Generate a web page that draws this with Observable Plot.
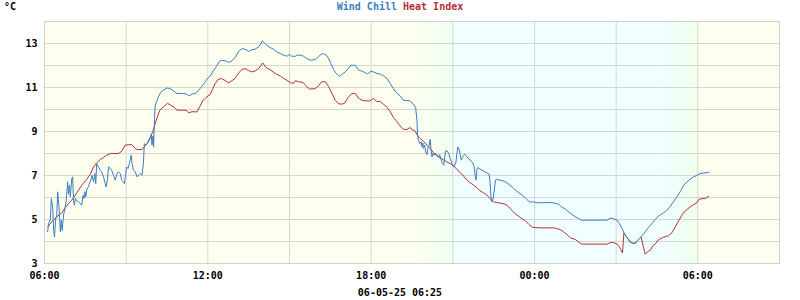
<!DOCTYPE html>
<html><head><meta charset="utf-8">
<script src="https://cdn.jsdelivr.net/npm/d3@7"></script>
<script src="https://cdn.jsdelivr.net/npm/@observablehq/plot@0.6"></script>
<style>
body{margin:0;background:#fff;}
svg{display:block;}
</style></head><body><div id="chart"></div>
<script>
// ---- data (minutes after 06:00 of the first day, °C) ----
const startUTC = [2025, 5, 4, 6, 0];
const endUTC = [2025, 5, 5, 9, 0];
const seriesNames = ["Wind Chill", "Heat Index"];
const seriesColors = ["#3b7dc0", "#b3303a"];
const stampText = "06-05-25 06:25";
const unitText = "°C";
const yTicks = [3, 5, 7, 9, 11, 13];
const yGrid = [3,4,5,6,7,8,9,10,11,12,13,14];

const wcMinutes = [7,9,13,15,18,20,22,25,27,29,32,35,37,39,42,45,48,51,53,55,57,60,62,64,66,68,71,75,79,82,85,87,89,91,93,97,100,102,105,108,111,113,115,119,123,126,130,134,136,139,141,145,148,152,156,160,163,167,170,174,176,179,181,184,187,189,191,193,196,200,204,207,211,215,218,220,223,226,229,233,235,237,239,240.5,242.5,244,248,251,256,262,271,277,284,292,306,314,318,325,333,340,347,353,358,365,372,380,386,392,399,406,413,420,428,435,442,450,457,464,472,477,480,485,490,497,505,512,520,527,534,540,545,553,556,564,571,578,586,597,604,609,615,621,626,631,637,643,650,655,663,670,675,685,692,700,707,712,719,725,733,740,747,755,762,769,777,784,791,806,813,818,821,822,824,827,830,832,834,835,838,840,843,845,848,850,852,854,856,859,862,865,868,871,874,877,880,882,884,888,891,894,897,899,902,904,907,909,911,914,917,919,921,924,926,931,938,944,947,949,951,953,955,960,968,975,980,982,984,986,988,991,994,997,1004,1013,1019,1026,1034,1041,1048,1056,1063,1069,1078,1085,1093,1118,1126,1133,1140,1148,1155,1162,1170,1177,1184,1240,1247,1254,1262,1267,1273,1278,1284,1291,1297,1303,1309,1315,1324,1331,1339,1346,1353,1364,1372,1379,1386,1394,1401,1409,1416,1423,1431,1438,1445,1456,1464];
const wcValues = [4.45,4.82,5.0,5.95,5.58,4.6,4.21,5.1,5.15,6.26,5.55,4.44,4.97,4.5,5.2,5.5,5.88,6.71,6.15,6.56,6.03,6.86,6.94,5.88,5.65,5.95,5.85,5.8,5.73,5.65,6.11,5.95,6.26,6.03,6.35,6.5,6.7,6.79,7.01,6.71,7.09,6.63,7.54,7.39,7.24,7.17,6.94,6.63,6.48,6.86,7.39,7.32,7.24,7.01,6.79,7.09,7.17,7.09,6.79,6.71,6.63,7.09,7.39,7.32,7.54,7.7,7.92,7.54,7.24,7.17,6.94,7.01,7.09,7.01,7.54,8.45,8.38,8.45,8.53,8.7,8.85,8.38,8.8,8.3,9.6,10.2,10.4,10.57,10.78,10.88,10.98,10.95,10.85,10.73,10.73,10.69,10.62,10.7,10.74,10.88,11.06,11.22,11.38,11.52,11.75,12.0,12.2,12.24,12.21,12.14,12.21,12.36,12.65,12.76,12.74,12.64,12.72,12.74,12.85,12.98,13.12,13.02,12.92,12.82,12.74,12.62,12.54,12.47,12.42,12.5,12.42,12.42,12.47,12.47,12.42,12.32,12.24,12.27,12.39,12.51,12.54,12.47,12.32,12.09,11.82,11.64,11.51,11.59,11.71,11.86,12.01,12.01,11.79,11.74,11.68,11.61,11.74,11.71,11.64,11.61,11.53,11.41,11.18,10.95,10.73,10.62,10.42,10.39,10.24,10.09,9.5,8.91,8.6,8.45,8.53,8.3,8.48,8.23,8.38,8.07,7.95,8.23,8.38,8.64,8.15,7.85,8.0,7.92,8.0,7.88,7.82,7.95,7.73,7.54,7.47,7.82,8.12,8.11,8.0,7.77,7.62,7.47,7.42,7.47,7.62,8.0,8.3,8.18,7.85,7.7,7.82,7.92,7.97,7.85,7.7,7.58,7.39,7.01,6.79,7.27,7.36,7.29,7.2,7.12,7.06,6.71,6.03,5.8,5.88,6.26,6.79,6.82,6.79,6.74,6.67,6.56,6.41,6.29,6.18,6.06,5.91,5.8,5.8,5.76,5.76,5.77,5.73,5.7,5.57,5.47,5.35,5.24,5.12,5.04,4.97,4.97,5.07,5.04,4.97,4.82,4.59,4.36,4.18,3.98,3.91,3.94,4.09,4.21,4.44,4.63,4.82,5.0,5.15,5.3,5.42,5.6,5.8,6.03,6.26,6.56,6.71,6.83,6.94,7.01,7.09,7.12,7.14];

const hiMinutes = [7,16,27,38,46,53,60,68,75,82,93,101,108,115,123,130,137,145,163,170,178,192,200,204,215,226,233,240,244,248,254,262,271,278,286,292,312,318,325,336,342,349,356,365,370,376,382,390,398,406,413,420,428,435,442,450,457,464,472,477,481,487,494,498,505,512,520,527,534,542,549,553,560,570,576,584,597,604,611,619,626,633,641,649,657,662,669,677,685,692,700,708,717,725,732,740,747,755,762,769,777,784,791,799,805,810,817,822,828,835,843,850,857,865,872,880,887,894,902,909,916,924,931,938,946,953,960,968,975,982,990,997,1008,1015,1023,1030,1037,1045,1052,1060,1067,1074,1078,1093,1122,1129,1137,1144,1151,1159,1170,1177,1184,1240,1247,1254,1262,1267,1270,1274,1277,1284,1291,1297,1303,1309,1315,1320,1324,1331,1335,1342,1346,1353,1364,1375,1383,1390,1398,1405,1410,1416,1423,1431,1438,1442,1449,1456,1464];
const hiValues = [4.67,4.89,5.12,5.3,5.54,5.73,5.88,6.11,6.33,6.56,6.82,7.06,7.39,7.58,7.73,7.82,7.92,8.0,8.0,8.1,8.38,8.41,8.23,8.18,8.18,8.45,8.72,9.06,9.36,9.62,9.97,10.12,10.28,10.2,10.1,9.97,9.97,9.85,9.9,9.89,10.12,10.4,10.55,10.68,10.9,11.18,11.35,11.41,11.32,11.21,11.31,11.41,11.66,11.82,11.86,11.77,11.71,11.75,11.86,12.0,12.12,11.94,11.83,11.8,11.69,11.6,11.52,11.41,11.33,11.22,11.19,11.31,11.26,11.23,11.08,10.93,10.95,11.08,11.26,11.26,11.05,10.75,10.41,10.25,10.25,10.3,10.54,10.72,10.73,10.52,10.42,10.39,10.39,10.5,10.37,10.36,10.24,10.1,9.9,9.64,9.44,9.25,9.1,9.09,9.18,9.1,9.01,8.83,8.68,8.56,8.38,8.23,8.04,7.92,7.8,7.7,7.62,7.54,7.44,7.27,7.14,6.97,6.79,6.67,6.56,6.45,6.3,6.21,6.11,5.95,5.8,5.77,5.73,5.7,5.58,5.42,5.27,5.15,5.04,4.94,4.79,4.67,4.64,4.62,4.62,4.59,4.54,4.44,4.32,4.17,4.09,3.98,3.88,3.88,3.95,3.95,3.88,3.76,3.64,3.48,4.38,4.18,3.98,3.91,3.94,4.09,4.21,3.76,3.42,3.57,3.6,3.83,3.88,4.07,4.19,4.26,4.4,4.65,4.95,5.2,5.35,5.45,5.57,5.68,5.76,5.91,5.95,5.95,6.06];

// background shading (minutes after 06:00 of the first day) and colours
const shadeMinutes = [0, 805, 900, 900, 1360, 1440, 1440, 1620];
const shadeColors = ["#fffff0", "#fffff0", "#effff0", "#f0ffff", "#f0ffff", "#f0ffeb", "#fffff0", "#fffff0"];

// ---- build ----
const t0 = Date.UTC(...startUTC);
const toDate = m => new Date(t0 + m * 60000);
const wind = wcMinutes.map((m, i) => ({time: toDate(m), value: wcValues[i]}));
const heat = hiMinutes.map((m, i) => ({time: toDate(m), value: hiValues[i]}));
const start = new Date(t0), end = new Date(Date.UTC(...endUTC));

const plot = Plot.plot({
  width: 800, height: 300,
  marginLeft: 44, marginRight: 21, marginTop: 21, marginBottom: 37,
  style: {fontFamily: "'DejaVu Sans Mono', monospace", fontSize: "10px", fontWeight: "bold", color: "#000", background: "#fff", overflow: "visible"},
  x: {type: "utc", domain: [start, end]},
  y: {domain: [3, 14]},
  marks: [
    Plot.frame({fill: "url(#bgGrad)"}),
    Plot.gridX({ticks: d3.utcHour.every(3), stroke: "#d6d6d6", strokeOpacity: 1}),
    Plot.gridY(yGrid, {stroke: "#d6d6d6", strokeOpacity: 1}),
    Plot.line(heat, {x: "time", y: "value", stroke: seriesColors[1], strokeWidth: 1}),
    Plot.line(wind, {x: "time", y: "value", stroke: seriesColors[0], strokeWidth: 1}),
    Plot.frame({stroke: "#d0d0d0"}),
    Plot.axisY(yTicks, {tickSize: 0, tickPadding: 7, label: null}),
    Plot.axisX({ticks: d3.utcHour.every(6), tickFormat: d3.utcFormat("%H:%M"), tickSize: 0, tickPadding: 8, label: null})
  ]
});

const svg = d3.select(plot);
const xs = plot.scale("x");
const x0 = xs.range[0], x1 = xs.range[1];
const grad = svg.insert("defs", ":first-child").append("linearGradient")
  .attr("id", "bgGrad").attr("x1", 0).attr("x2", 1).attr("y1", 0).attr("y2", 0);
shadeMinutes.forEach((m, i) => {
  const px = xs.apply(toDate(m));
  const off = Math.max(0, Math.min(1, (px - x0) / (x1 - x0)));
  grad.append("stop").attr("offset", off).attr("stop-color", shadeColors[i]);
});

const font = "'DejaVu Sans Mono', monospace";
const title = svg.append("text").attr("x", 400).attr("y", 10).attr("text-anchor", "middle")
  .attr("font-family", font).attr("font-size", 10).attr("font-weight", "bold");
title.append("tspan").attr("fill", seriesColors[0]).text(seriesNames[0]);
title.append("tspan").attr("fill", seriesColors[1]).text(" " + seriesNames[1]);
svg.append("text").attr("x", 10).attr("y", 10).attr("font-family", font)
  .attr("font-size", 10).attr("font-weight", "bold").attr("fill", "#000").text(unitText);
svg.append("text").attr("x", 400).attr("y", 296).attr("text-anchor", "middle").attr("font-family", font)
  .attr("font-size", 10).attr("font-weight", "bold").attr("fill", "#000").text(stampText);

document.getElementById("chart").appendChild(plot);
</script></body></html>
